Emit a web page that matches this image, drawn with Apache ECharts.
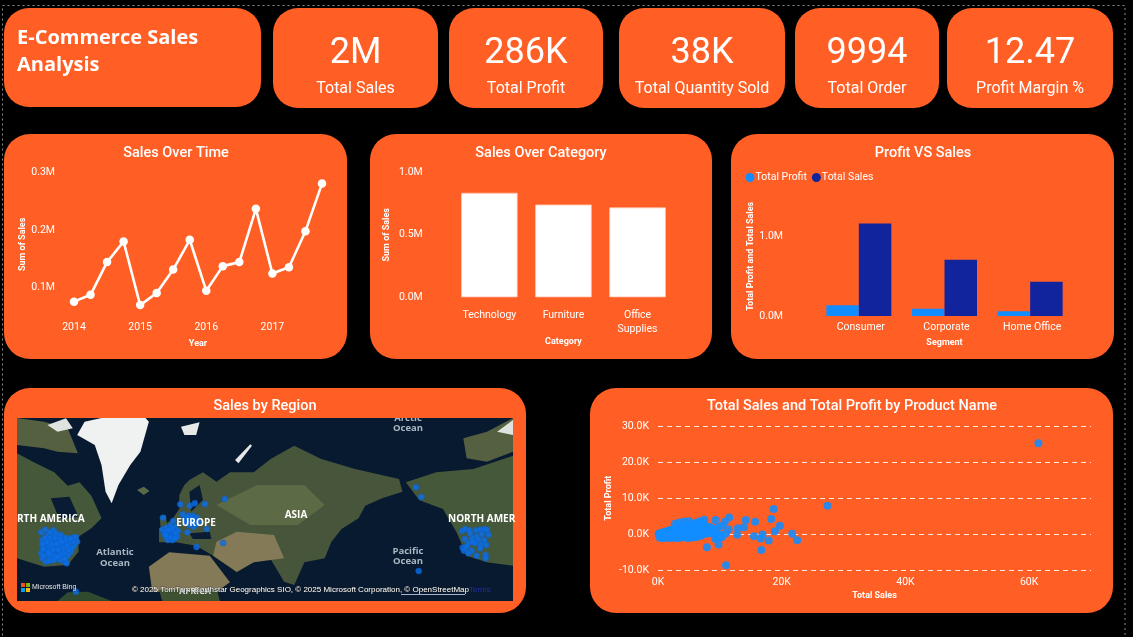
<!DOCTYPE html>
<html><head><meta charset="utf-8">
<style>html,body{margin:0;padding:0;background:#000}#c{width:1133px;height:637px}</style>
<script src="https://cdn.jsdelivr.net/npm/echarts@6/dist/echarts.min.js"></script>
</head><body><div id="c"></div>
<script>
const kpiValues=['2M','286K','38K','9994','12.47'];
const kpiLabels=['Total Sales','Total Profit','Total Quantity Sold','Total Order','Profit Margin %'];
const quarters=['2014','2014Q2','2014Q3','2014Q4','2015','2015Q2','2015Q3','2015Q4','2016','2016Q2','2016Q3','2016Q4','2017','2017Q2','2017Q3','2017Q4'];
const quarterSales=[0.075,0.087,0.144,0.18,0.069,0.09,0.131,0.183,0.094,0.137,0.144,0.237,0.124,0.135,0.198,0.281];
const categories=['Technology','Furniture','Office\nSupplies'];
const categorySales=[0.836,0.742,0.719];
const segments=['Consumer','Corporate','Home Office'];
const segmentProfit=[0.134,0.092,0.06];
const segmentSales=[1.16,0.706,0.43];
const productSalesK=[61.5,27.4,18.7,18.3,19.7,18.9,21.7,22.5,17.9,16.9,16.6,16.7,15.5,15.7,14.2,13.9,12.9,12.8,11.5,10.8,11.4,10.9,11,7.9,9.8,9.3,9.3,7.5,6.8,
 0.1,0.2,0.3,0.4,0.5,0.6,0.7,0.8,0.9,1,1.1,1.2,1.3,1.4,1.5,1.6,1.7,1.8,1.9,2,2.1,2.2,2.3,2.4,2.5,2.6,2.7,2.8,2.9,3,3.1,3.2,3.3,3.4,3.5,3.6,3.7,3.8,3.9,4,4.1,4.2,4.3,4.4,4.5,4.6,4.7,4.8,4.9,5,5.1,5.2,5.3,5.4,5.5,5.6,5.7,5.8,5.9,6,6.1,6.2,6.3,6.4,6.5,6.6,6.7,6.9,7,7.1,7.2,7.4,7.6,7.8,8,8.2,8.4,8.7,9,9.4,10,10.3,
 0.3,0.5,0.8,1,1.2,1.5,1.8,2,2.3,2.6,3,3.3,3.6,4,4.4,4.8,5.2,5.5,5.9,6.3,6.6,7,7.3,7.7,8.1,
 0.6,1.1,1.6,2.1,2.6,3.1,3.6,4.1,4.6,5.1,5.6,6.1,6.6,7.1,7.6,8.1,8.6,9.1,9.6,10.1,
 1.4,2.2,2.9,3.7,4.5,5.3,6,6.8,7.5,8.3,9,9.7,10.4,2.7,3.4,4.2,5,5.8,6.5,7.3,
 3.9,4.7,5.4,6.2,6.9,7.7,8.5,8.9,9.5];
const productProfitK=[25.3,7.9,7,4.2,2.3,0.8,0.1,-1.7,-1.8,-0.1,-1.2,-4.4,-0.6,3.4,3.9,1.9,1.6,-0.2,4.6,3.4,1.3,0.1,-8.7,-3.7,-2.9,-1.4,3.9,4,3.6,
 0,0.1,0.1,0.2,-0.2,0.3,0.3,0.2,0.5,0.4,0.6,-0.3,0.6,0.7,0.5,0.8,0.7,1,0.6,1,1.1,0.7,1.2,1,1.3,0.9,1.4,1.1,1.5,1.2,1.6,1,1.7,1.3,1.8,1.4,2,1.2,1.9,1.6,2.1,1.5,2,1.8,2.2,1.7,2.4,1.6,2.3,1.9,2.5,1.4,2.6,2,2.7,1.8,2.8,1.5,3,2.2,2.9,1.6,2.6,2,3.2,1.3,3.1,2.2,1.9,3,1.4,2.6,1.2,2.2,1.5,1.2,2,1.1,1.3,
 -0.6,-0.8,-0.9,-1,-0.7,-1.1,-0.9,-1,-0.8,-1.1,-0.6,-1,-0.8,-1.1,-0.9,-1,-0.7,-0.9,-1.1,-0.8,-1,-0.6,-0.8,-0.5,-0.4,
 0.1,0.1,0.2,0.3,0.4,0.4,0.5,0.5,0.6,0.6,0.7,0.7,0.6,0.7,0.8,0.6,0.7,0.6,0.7,0.8,
 -0.3,-0.2,-0.2,-0.1,0,0,0.1,0.1,0.1,0.1,0.2,0.3,0.4,1.5,1.9,2.3,2.8,3.2,3.5,3.6,
 1.3,1.3,1.4,1.4,1.5,1.6,2.4,2.7,1.6];
const mapPoints=[[122,442],[134,434],[158,436],[125,465],[140,452],[155,450],[170,455],[185,462],[200,470],[215,458],[224,456],[228,470],[218,482],[205,490],[190,478],[175,470],[160,465],[145,470],[130,478],[122,505],[135,495],[150,488],[165,485],[180,495],[195,503],[210,500],[200,512],[185,515],[170,505],[155,505],[140,512],[125,520],[135,530],[150,520],[165,520],[178,525],[192,530],[197,535],[130,490],[160,478],[175,485],[190,490],[145,485],[215,470],[205,478],
 [148,442],[165,445],[180,450],[195,458],[208,462],[133,460],[148,460],[163,458],[178,462],[192,468],[125,478],[138,470],[152,478],[168,476],[183,472],[198,482],[212,490],[127,492],[142,498],[158,495],[172,495],[187,505],[203,495],[128,512],[145,505],[162,512],[178,510],[192,522],[145,528],[158,526],[170,515],
 [480,434],[492,428],[505,422],[518,425],[526,438],[510,440],[495,442],[485,448],[500,452],[515,452],[524,455],[510,465],[496,465],[503,435],[492,457],[482,398],[512,408],[488,440],[498,435],[510,430],[518,445],[505,458],[490,450],[517,460],
 [548,400],[558,392],[570,392],[582,398],[585,410],[575,405],[562,405],[550,412],[560,420],[572,425],[580,418],[568,415],[555,398],[565,398],[577,412],[556,412],[533,358],[561,362],[576,355],[606,357],[665,342],[540,388],[612,432],[554,442],[660,474],[581,486],[224,620],[1230,307],[1246,336],[1238,558],
 [1366,438],[1376,432],[1388,436],[1408,436],[1420,434],[1432,433],[1440,434],[1445,449],[1425,448],[1410,455],[1395,460],[1375,462],[1390,445],[1415,465],[1432,466],[1405,475],[1422,480],[1438,480],[1385,475],[1368,488],[1380,485],[1395,497],[1372,497],[1385,505],[1410,512],[1436,510],[1436,520],[1420,490],[1398,470]];
const mapLand=[
 {c:'#47563a',p:[[530,330],[545,300],[560,285],[600,262],[640,290],[680,262],[750,262],[800,222],[870,182],[950,222],[1050,252],[1180,282],[1190,320],[1130,340],[1080,362],[1060,400],[1010,432],[980,470],[960,520],[900,532],[870,600],[840,590],[800,522],[750,532],[700,562],[630,512],[580,482],[520,472],[470,472],[470,432],[510,402],[530,372]]},
 {c:'#5c6a45',p:[[640,360],[760,300],[900,300],[960,360],[880,420],[740,420]]},
 {c:'#857a58',p:[[640,470],[700,440],[810,450],[840,520],[750,532],[700,560],[630,512]]},
 {c:'#857a58',p:[[440,545],[500,502],[620,512],[680,592],[640,620],[450,620]]},
 {c:'#3e5232',p:[[470,615],[640,610],[650,648],[480,648]]},
 {c:'#46583a',p:[[50,205],[100,232],[160,262],[200,302],[235,292],[270,332],[300,400],[270,430],[232,455],[232,500],[200,540],[130,545],[50,520]]},
 {c:'#556040',p:[[50,99],[130,110],[200,130],[230,205],[170,200],[130,190],[50,180]]},
 {c:'#dfe3e0',p:[[140,120],[195,100],[215,130],[170,140]]},
 {c:'#46583a',p:[[1200,292],[1290,262],[1400,252],[1517,212],[1517,542],[1440,532],[1380,512],[1350,442],[1310,372],[1240,346]]},
 {c:'#556040',p:[[1370,160],[1440,140],[1517,99],[1517,200],[1440,230],[1380,220]]},
 {c:'#dfe3e0',p:[[1470,140],[1517,105],[1517,150]]},
 {c:'#2f4a2f',p:[[170,648],[200,622],[260,620],[330,648]]},
 {c:'#f0f2f2',p:[[228,150],[250,110],[300,99],[430,99],[440,110],[415,200],[385,240],[350,300],[330,355],[312,320],[300,240],[280,180]]},
 {c:'#e6e9e8',p:[[535,125],[590,112],[580,150],[545,150]]},
 {c:'#e6e9e8',p:[[695,225],[740,178],[745,182],[705,235]]},
 {c:'#5a6a48',p:[[405,315],[425,305],[442,318],[425,330]]},
 {c:'#47563a',p:[[472,395],[490,390],[495,425],[475,428]]},
 {c:'#0a1c33',p:[[150,340],[205,335],[232,395],[175,402]]},
 {c:'#0a1c33',p:[[560,320],[590,300],[600,345],[565,380]]},
 {c:'#0a1c33',p:[[560,445],[620,440],[625,462],[570,462]]}
];
const din='"Roboto","Noto Sans",sans-serif';
const orange='#FF5F25';
const card=(x,y,w,h,r)=>({type:'rect',z:-5,shape:{x,y,width:w,height:h,r},style:{fill:orange}});
const txt=(text,x,y,size,opt={})=>({type:'text',z:opt.z||5,x,y,style:Object.assign({text,fill:'#fff',font:`${opt.weight||'normal'} ${size}px ${opt.family||din}`,textAlign:opt.align||'center',textVerticalAlign:'middle'},opt.style||{})});
const kpiBoxes=[[273,165],[449,154],[619,166],[795,144],[947,166]];
const graphics=[
 {type:'rect',z:-6,shape:{x:2.5,y:5.5,width:1122.5,height:640},style:{fill:'none',stroke:'#8a8a8a',lineWidth:1,lineDash:[2,3]}},
 card(4,8,257,99,25),
 txt('E-Commerce Sales',17,38.5,20,{align:'left',weight:'bold',family:'"Open Sans",sans-serif'}),
 txt('Analysis',17,65.5,20,{align:'left',weight:'bold',family:'"Open Sans",sans-serif'}),
 card(4,134,343,225,26),card(370,134,342,225,26),card(731,134,383,225,26),card(4,388,522,225,26),card(590,388,523,225,26),
 txt('Sales Over Time',176,153,14.5,{weight:'500'}),
 txt('Sales Over Category',541,153,14.5,{weight:'500'}),
 txt('Profit VS Sales',923,153,14.5,{weight:'500'}),
 txt('Sales by Region',265,406,14.5,{weight:'500'}),
 txt('Total Sales and Total Profit by Product Name',852,406,14.5,{weight:'500'}),
 {type:'rect',z:-4,shape:{x:17,y:418,width:496,height:183},style:{fill:'#081a30'}},
 {type:'rect',z:4.5,shape:{x:380,y:410,width:60,height:8},style:{fill:orange}}
];
kpiBoxes.forEach((b,i)=>{
 graphics.push(card(b[0],8,b[1],100,25));
 graphics.push(txt(kpiValues[i],b[0]+b[1]/2,54,36,{weight:'normal'}));
 graphics.push(txt(kpiLabels[i],b[0]+b[1]/2,89,16));
});
const mapLabel=(t,x,y,s,o={})=>txt(t,x,y,s,Object.assign({z:6,family:'"Open Sans",sans-serif',weight:'bold',style:{fill:o.fill||'#fff',lineHeight:10.5}},o));
graphics.push(
 mapLabel('RTH AMERICA',17,519,10,{align:'left'}),
 mapLabel('NORTH AMER',448,519,10,{align:'left'}),
 mapLabel('EUROPE',196,523,10),
 mapLabel('ASIA',296,515,10),
 mapLabel('Atlantic\nOcean',115,558,9.5,{fill:'#a9b8c2'}),
 mapLabel('Pacific\nOcean',408,556.5,9.5,{fill:'#a9b8c2'}),
 mapLabel('Arctic\nOcean',408,423.5,9.5,{z:4,fill:'#a9b8c2'}),
 mapLabel('AFRICA',195,591,9,{fill:'#e0e0e0'}),
 txt('© 2025 TomTom, Earthstar Geographics SIO, © 2025 Microsoft Corporation, © OpenStreetMap',132,589.5,8,{z:7,align:'left',family:'"Liberation Sans",sans-serif',style:{fill:'#fff',stroke:'#222',lineWidth:0.4}}),
 {type:'rect',z:7,shape:{x:401,y:594,width:64,height:0.8},style:{fill:'#dfe6ff'}},
 txt('Terms',469,589.5,8,{z:7,align:'left',family:'"Liberation Sans",sans-serif',style:{fill:'#22309a'}}),
 txt('Microsoft Bing',32,587,7,{z:7,align:'left',family:'"Liberation Sans",sans-serif',style:{fill:'#e8e8e8'}}),
 {type:'rect',z:7,shape:{x:21,y:583,width:4,height:4},style:{fill:'#f25022'}},
 {type:'rect',z:7,shape:{x:26,y:583,width:4,height:4},style:{fill:'#7fba00'}},
 {type:'rect',z:7,shape:{x:21,y:588,width:4,height:4},style:{fill:'#00a4ef'}},
 {type:'rect',z:7,shape:{x:26,y:588,width:4,height:4},style:{fill:'#ffb900'}}
);
const lbl={color:'#fff',fontFamily:din,fontSize:10.5};
const ylbl=Object.assign({},lbl,{padding:[4,0,0,0]});
const nm={color:'#fff',fontFamily:din,fontSize:9,fontWeight:'bold'};
const hidden={show:false};
const catAxis=(i,data,name,extra={})=>Object.assign({type:'category',gridIndex:i,data,name,nameLocation:'middle',nameTextStyle:nm,axisLine:hidden,axisTick:hidden,axisLabel:lbl,splitLine:hidden},extra);
const option={
 backgroundColor:'#000',animation:false,tooltip:{show:false},
 graphic:graphics,
 legend:{data:['Total Profit','Total Sales'],left:745.5,top:172,icon:'circle',itemWidth:9,itemHeight:9,itemGap:5,padding:0,textStyle:{color:'#fff',fontFamily:din,fontSize:10.5,padding:[0,0,0,-4]}},
 grid:[
  {left:74,top:172.7,width:248,height:143.3},
  {left:452.3,top:172.3,width:222.3,height:125},
  {left:816,top:196.5,width:257,height:119.5},
  {left:658,top:426.3,width:433,height:143.7},
  {left:17,top:418,width:496,height:183}
 ],
 xAxis:[
  catAxis(0,quarters,'Year',{boundaryGap:false,nameGap:23,axisLabel:Object.assign({},lbl,{margin:6,interval:0,formatter:v=>/^\d{4}$/.test(v)?v:''})}),
  catAxis(1,categories,'Category',{nameGap:37,axisLabel:Object.assign({},lbl,{margin:11,lineHeight:14})}),
  catAxis(2,segments,'Segment',{nameGap:22,axisLabel:Object.assign({},lbl,{margin:6,padding:[0,0,0,4]})}),
  {type:'value',gridIndex:3,min:0,max:70,interval:20,name:'Total Sales',nameLocation:'middle',nameGap:21,nameTextStyle:nm,axisLine:hidden,axisTick:hidden,splitLine:hidden,axisLabel:Object.assign({},lbl,{margin:7,showMaxLabel:false,formatter:v=>v+'K'})},
  {type:'value',gridIndex:4,min:50,max:1517,show:false}
 ],
 yAxis:[
  {type:'value',gridIndex:0,min:0.05,max:0.3,interval:0.05,name:'Sum of Sales',nameLocation:'middle',nameGap:47,nameTextStyle:nm,axisLine:hidden,axisTick:hidden,splitLine:hidden,axisLabel:Object.assign({},ylbl,{margin:19,formatter:v=>Math.abs(v*10-Math.round(v*10))<1e-6?v.toFixed(1)+'M':''})},
  {type:'value',gridIndex:1,min:0,max:1,interval:0.5,name:'Sum of Sales',nameLocation:'middle',nameGap:61,nameTextStyle:nm,axisLine:hidden,axisTick:hidden,splitLine:hidden,axisLabel:Object.assign({},ylbl,{margin:29.6,formatter:v=>v.toFixed(1)+'M'})},
  {type:'value',gridIndex:2,min:0,max:1.5,interval:1,name:'Total Profit and Total Sales',nameLocation:'middle',nameGap:61,nameTextStyle:nm,axisLine:hidden,axisTick:hidden,splitLine:hidden,axisLabel:Object.assign({},ylbl,{margin:33,showMaxLabel:false,formatter:v=>v.toFixed(1)+'M'})},
  {type:'value',gridIndex:3,min:-10,max:30,interval:10,name:'Total Profit',nameLocation:'middle',nameGap:45,nameTextStyle:nm,axisLine:hidden,axisTick:hidden,splitLine:{lineStyle:{color:'#ffe9e0',type:[5,4],width:1}},axisLabel:Object.assign({},ylbl,{margin:9,formatter:v=>v.toFixed(1)+'K'})},
  {type:'value',gridIndex:4,min:99,max:648,inverse:true,show:false}
 ],
 series:[
  {type:'line',name:'Sales by quarter',xAxisIndex:0,yAxisIndex:0,data:quarterSales,symbol:'circle',symbolSize:8.5,lineStyle:{color:'#fff',width:2.6},itemStyle:{color:'#fff'}},
  {type:'bar',name:'Sales by category',xAxisIndex:1,yAxisIndex:1,data:categorySales,barWidth:56.5,itemStyle:{color:'#fff',borderColor:'#ffc4ad',borderWidth:0.8}},
  {type:'bar',name:'Total Profit',xAxisIndex:2,yAxisIndex:2,data:segmentProfit,barWidth:32.5,barGap:0,itemStyle:{color:'#118DFF'}},
  {type:'bar',name:'Total Sales',xAxisIndex:2,yAxisIndex:2,data:segmentSales,barWidth:32.5,barGap:0,itemStyle:{color:'#12239E'}},
  {type:'scatter',name:'Products',xAxisIndex:3,yAxisIndex:3,z:3,data:productSalesK.map((x,i)=>[x,productProfitK[i]]),symbolSize:8,itemStyle:{color:'#118DFF',opacity:0.88}},
  {type:'custom',name:'Basemap',xAxisIndex:4,yAxisIndex:4,z:1,silent:true,data:mapLand.map((d,i)=>[i]),
   renderItem:(p,api)=>{const d=mapLand[p.dataIndex];return {type:'polygon',shape:{points:d.p.map(q=>api.coord(q))},style:{fill:d.c}};}},
  {type:'scatter',name:'Sales locations',xAxisIndex:4,yAxisIndex:4,z:3,data:mapPoints,symbolSize:6,itemStyle:{color:'#0B6FE8',borderColor:'#0A5CC4',borderWidth:0.6}}
 ]
};
echarts.init(document.getElementById('c')).setOption(option);
</script></body></html>
